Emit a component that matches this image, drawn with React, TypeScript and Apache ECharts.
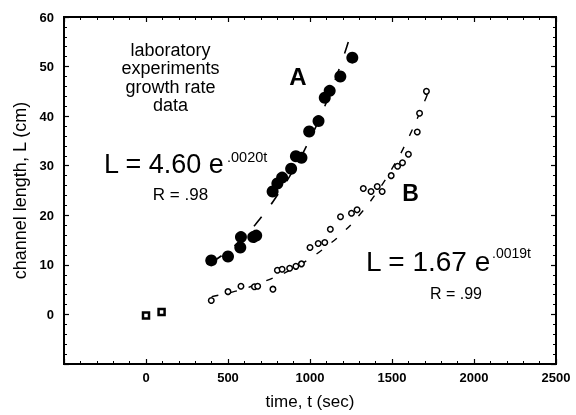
import React, { useEffect, useRef } from "react";
import * as echarts from "echarts";

// Series A (filled circles)
const aTime = [398, 500, 575, 579, 654, 672, 772, 801, 830, 885, 914, 948, 995, 1052, 1090, 1120, 1185, 1258];
const aLength = [10.9, 11.7, 13.5, 15.6, 15.6, 15.9, 24.8, 26.4, 27.6, 29.4, 31.9, 31.6, 36.9, 39.0, 43.7, 45.1, 48.0, 51.8];

// Series B (open circles)
const bTime = [398, 500, 579, 661, 681, 774, 801, 830, 876, 914, 948, 1000, 1050, 1090, 1124, 1186, 1253, 1287, 1325, 1372, 1410, 1440, 1495, 1534, 1564, 1600, 1654, 1668, 1710];
const bLength = [2.8, 4.6, 5.7, 5.6, 5.7, 5.1, 8.9, 9.1, 9.3, 9.7, 10.2, 13.5, 14.3, 14.5, 17.2, 19.7, 20.4, 21.1, 25.4, 24.8, 25.8, 24.8, 28.0, 29.9, 30.6, 32.3, 36.8, 40.6, 45.0];

// Initial squares
const sqTime = [0, 95];
const sqLength = [-0.2, 0.5];

// Fitted curves
const fitATime = [400, 500, 600, 700, 800, 900, 1000, 1100, 1200, 1245];
const fitALength = [10.5, 12.8, 15.7, 19.5, 24.0, 29.2, 35.4, 42.8, 51.6, 56.2];
const fitBTime = [400, 500, 600, 700, 800, 900, 1000, 1100, 1200, 1300, 1400, 1500, 1600, 1700, 1720];
const fitBLength = [3.6, 4.3, 5.2, 6.4, 7.7, 9.3, 11.3, 13.7, 16.5, 20.0, 24.3, 29.4, 35.6, 43.1, 44.8];

// Axis ticks
const xTicks = { min: -500, max: 2500, interval: 500 };
const yTicks = { min: -10, max: 60, interval: 10 };

const FONT = "'Liberation Sans', Arial, Helvetica, sans-serif";

const zip = (xs: number[], ys: number[]) => xs.map((x, i) => [x, ys[i]]);

const tickLabel = (v: number) => (v < 0 ? "" : String(v));

export default function App() {
  const ref = useRef<HTMLDivElement>(null);

  useEffect(() => {
    const chart = echarts.init(ref.current!, null, { renderer: "svg" });

    const mkAxis = (extra: any) => ({
      type: "value",
      axisLine: { show: true, onZero: false, lineStyle: { color: "#000", width: 2 } },
      axisTick: { show: true, inside: true, length: 5, lineStyle: { color: "#000", width: 1.2 } },
      minorTick: { show: true, splitNumber: 5, length: 3, lineStyle: { color: "#000", width: 1 } },
      splitLine: { show: false },
      ...extra,
    });

    const labelStyle = {
      fontFamily: FONT,
      fontSize: 13,
      fontWeight: "bold",
      color: "#000",
      formatter: tickLabel,
    };

    const option: any = {
      animation: false,
      grid: {
        left: 64,
        right: 20,
        top: 17,
        bottom: 47,
        show: true,
        borderColor: "#000",
        borderWidth: 2,
      },
      xAxis: [
        mkAxis({
          position: "bottom",
          ...xTicks,
          name: "time, t (sec)",
          nameLocation: "middle",
          nameGap: 29,
          nameTextStyle: { fontFamily: FONT, fontSize: 17, color: "#000" },
          axisLabel: { show: true, margin: 7, ...labelStyle },
        }),
        mkAxis({ position: "top", ...xTicks, axisLabel: { show: false } }),
      ],
      yAxis: [
        mkAxis({
          position: "left",
          ...yTicks,
          name: "channel length, L (cm)",
          nameLocation: "middle",
          nameGap: 26,
          nameTextStyle: { fontFamily: FONT, fontSize: 18, color: "#000" },
          axisLabel: { show: true, margin: 10, ...labelStyle },
        }),
        mkAxis({ position: "right", ...yTicks, axisLabel: { show: false } }),
      ],
      series: [
        {
          type: "line",
          name: "fit A",
          data: zip(fitATime, fitALength),
          smooth: true,
          showSymbol: false,
          lineStyle: { color: "#000", width: 1.6, type: [12, 16] },
          z: 1,
        },
        {
          type: "line",
          name: "fit B",
          data: zip(fitBTime, fitBLength),
          smooth: true,
          showSymbol: false,
          lineStyle: { color: "#000", width: 1.4, type: [7, 12] },
          z: 1,
        },
        {
          type: "scatter",
          name: "A",
          data: zip(aTime, aLength),
          symbol: "circle",
          symbolSize: 12,
          itemStyle: { color: "#000", opacity: 1 },
          z: 3,
        },
        {
          type: "scatter",
          name: "B",
          data: zip(bTime, bLength),
          symbol: "circle",
          symbolSize: 5.5,
          itemStyle: { color: "#fff", borderColor: "#000", borderWidth: 1.5, opacity: 1 },
          z: 3,
        },
        {
          type: "scatter",
          name: "start",
          data: zip(sqTime, sqLength),
          symbol: "rect",
          symbolSize: 6,
          itemStyle: { color: "#fff", borderColor: "#000", borderWidth: 2.5, opacity: 1 },
          z: 3,
        },
      ],
      graphic: [
        {
          type: "text",
          x: 170.5,
          y: 41,
          style: {
            text: "laboratory\nexperiments\ngrowth rate\ndata",
            align: "center",
            verticalAlign: "top",
            lineHeight: 18.3,
            font: `18px ${FONT}`,
            fill: "#000",
          },
        },
        {
          type: "text",
          x: 298,
          y: 76.5,
          style: { text: "A", align: "center", verticalAlign: "middle", font: `bold 24px ${FONT}`, fill: "#000" },
        },
        {
          type: "text",
          x: 410.5,
          y: 192.5,
          style: { text: "B", align: "center", verticalAlign: "middle", font: `bold 23px ${FONT}`, fill: "#000" },
        },
        {
          type: "text",
          x: 104,
          y: 164,
          style: { text: "L = 4.60 e", align: "left", verticalAlign: "middle", font: `27px ${FONT}`, fill: "#000" },
        },
        {
          type: "text",
          x: 227,
          y: 157,
          style: { text: ".0020t", align: "left", verticalAlign: "middle", font: `14.5px ${FONT}`, fill: "#000" },
        },
        {
          type: "text",
          x: 180.5,
          y: 194,
          style: { text: "R = .98", align: "center", verticalAlign: "middle", font: `17px ${FONT}`, fill: "#000" },
        },
        {
          type: "text",
          x: 366,
          y: 261.3,
          style: { text: "L = 1.67 e", align: "left", verticalAlign: "middle", font: `28px ${FONT}`, fill: "#000" },
        },
        {
          type: "text",
          x: 492,
          y: 252.5,
          style: { text: ".0019t", align: "left", verticalAlign: "middle", font: `14px ${FONT}`, fill: "#000" },
        },
        {
          type: "text",
          x: 456,
          y: 293,
          style: { text: "R = .99", align: "center", verticalAlign: "middle", font: `16px ${FONT}`, fill: "#000" },
        },
      ],
    };

    chart.setOption(option);
    return () => chart.dispose();
  }, []);

  return (
    <div
      ref={ref}
      style={{ position: "fixed", left: 0, top: 0, width: 576, height: 415 }}
    />
  );
}
